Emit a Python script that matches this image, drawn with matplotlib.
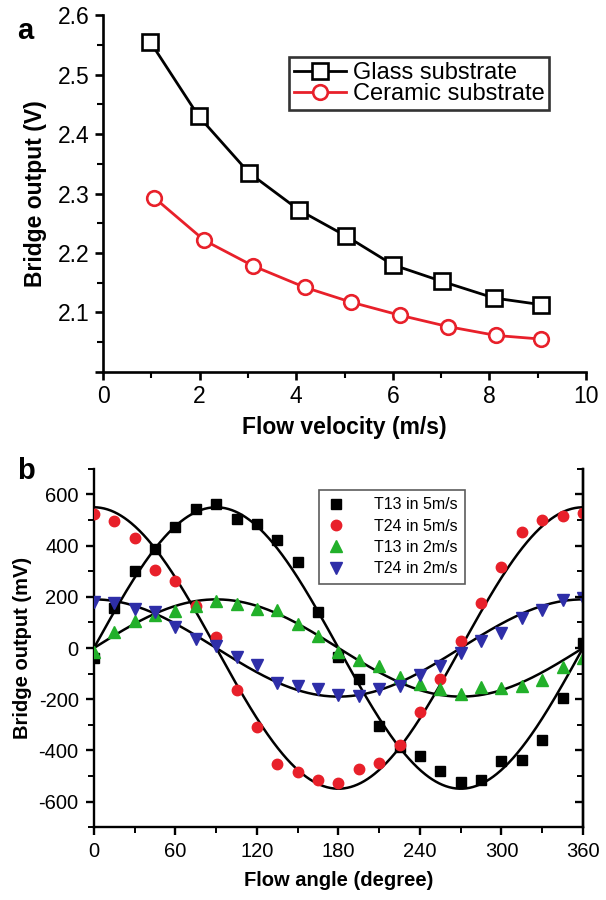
import numpy as np
import matplotlib
matplotlib.use("Agg")
import matplotlib.pyplot as plt
from matplotlib.ticker import FixedLocator, MultipleLocator, FuncFormatter

plt.rcParams['font.family'] = ['Liberation Sans', 'DejaVu Sans']
plt.rcParams['axes.unicode_minus'] = False

# ---------------- Panel a data ----------------
glass_x = [0.98, 1.98, 3.02, 4.06, 5.04, 6.0, 7.02, 8.1, 9.06]
glass_y = [2.555, 2.430, 2.335, 2.272, 2.228, 2.180, 2.152, 2.124, 2.113]
ceramic_x = [1.06, 2.1, 3.11, 4.18, 5.14, 6.15, 7.14, 8.14, 9.06]
ceramic_y = [2.293, 2.221, 2.178, 2.142, 2.117, 2.095, 2.076, 2.061, 2.055]

# ---------------- Panel b data ----------------
angles = [0, 15, 30, 45, 60, 75, 90, 105, 120, 135, 150, 165, 180,
          195, 210, 225, 240, 255, 270, 285, 300, 315, 330, 345, 360]
t13_5 = [-38, 158, 299, 385, 472, 542, 561, 503, 485, 424, 338, 139, -34,
         -120, -303, -385, -422, -481, -523, -516, -440, -437, -359, -197, 18]
t24_5 = [524, 495, 431, 304, 261, 165, 42, -165, -309, -453, -485, -516, -529,
         -472, -451, -380, -249, -121, 29, 176, 317, 452, 500, 516, 529]
t13_2 = [-16, 63, 107, 128, 144, 165, 185, 173, 152, 147, 94, 45, -16,
         -45, -71, -113, -140, -162, -178, -152, -155, -147, -126, -76, -39]
t24_2 = [178, 176, 152, 139, 83, 37, 8, -34, -68, -136, -149, -160, -183,
         -186, -162, -149, -105, -71, -21, 28, 60, 118, 149, 186, 194]
# sinusoidal fit parameters (amplitude mV, phase deg)
fit_amp = [550, 550, 190, 190]
fit_phase = [90, 0, 90, 0]

fig = plt.figure(figsize=(6.06, 9.0), dpi=100)

# ================= Panel a =================
ax = fig.add_axes([0.170, 0.587, 0.797, 0.396])
ax.plot(glass_x, glass_y, '-s', color='black', lw=2.0, ms=11, mfc='white',
        mec='black', mew=1.9, label='Glass substrate')
ax.plot(ceramic_x, ceramic_y, '-o', color='#e8202a', lw=2.0, ms=10.5, mfc='white',
        mec='#e8202a', mew=1.9, label='Ceramic substrate')
ax.set_xlim(0, 10)
ax.set_ylim(2.0, 2.6)
ax.spines['top'].set_visible(False)
ax.spines['right'].set_visible(False)
for s in ['left', 'bottom']:
    ax.spines[s].set_linewidth(1.9)
ax.xaxis.set_major_locator(MultipleLocator(2))
ax.xaxis.set_minor_locator(MultipleLocator(1))
ax.yaxis.set_major_locator(FixedLocator([2.0, 2.1, 2.2, 2.3, 2.4, 2.5, 2.6]))
ax.yaxis.set_minor_locator(FixedLocator([2.05, 2.15, 2.25, 2.35, 2.45, 2.55]))
ax.yaxis.set_major_formatter(FuncFormatter(lambda v, p: '' if abs(v - 2.0) < 1e-6 else f'{v:.1f}'))
ax.tick_params(which='major', direction='out', length=6, width=1.9, labelsize=16.5)
ax.tick_params(which='minor', direction='out', length=4, width=1.5)
ax.set_xlabel('Flow velocity (m/s)', fontsize=16.5, fontweight='bold', labelpad=6)
ax.set_ylabel('Bridge output (V)', fontsize=16.5, fontweight='bold', labelpad=8)
leg = ax.legend(loc='upper left', bbox_to_anchor=(0.385, 0.882), borderaxespad=0,
                fontsize=17, frameon=True, fancybox=False, handlelength=2.2,
                handletextpad=0.3, labelspacing=-0.05, borderpad=0.2)
leg.get_frame().set_edgecolor('black')
leg.get_frame().set_linewidth(1.9)
fig.text(0.028, 0.981, 'a', fontsize=21, fontweight='bold', va='top', ha='left')

# ================= Panel b =================
bx = fig.add_axes([0.155, 0.081, 0.807, 0.398])
theta = np.linspace(0, 360, 721)
for amp, ph in zip(fit_amp, fit_phase):
    bx.plot(theta, amp * np.cos(np.radians(theta - ph)), color='black', lw=1.8, zorder=2)
bx.plot(angles, t13_5, 's', color='black', ms=6.5, ls='none', label='T13 in 5m/s', zorder=3)
bx.plot(angles, t24_5, 'o', color='#e8202a', ms=7.5, ls='none', label='T24 in 5m/s', zorder=3)
bx.plot(angles, t13_2, '^', color='#22b02a', ms=8, ls='none', label='T13 in 2m/s', zorder=3)
bx.plot(angles, t24_2, 'v', color='#2e2ea8', ms=8, ls='none', label='T24 in 2m/s', zorder=3)
bx.set_xlim(0, 360)
bx.set_ylim(-700, 700)
bx.spines['top'].set_visible(False)
for s in ['left', 'bottom', 'right']:
    bx.spines[s].set_linewidth(1.7)
bx.xaxis.set_major_locator(MultipleLocator(60))
bx.xaxis.set_minor_locator(MultipleLocator(30))
bx.yaxis.set_major_locator(MultipleLocator(200))
bx.yaxis.set_minor_locator(MultipleLocator(100))
bx.tick_params(which='major', direction='out', length=6, width=1.7, labelsize=14.5, pad=5)
bx.tick_params(which='minor', direction='out', length=4, width=1.4)
bx.set_xlabel('Flow angle (degree)', fontsize=14.5, fontweight='bold', labelpad=7)
bx.set_ylabel('Bridge output (mV)', fontsize=14.5, fontweight='bold', labelpad=5)

rx = bx.twinx()
rx.set_ylim(-700, 700)
rx.yaxis.set_major_locator(MultipleLocator(200))
rx.yaxis.set_minor_locator(MultipleLocator(100))
rx.tick_params(which='major', direction='in', length=6, width=1.7, labelright=False)
rx.tick_params(which='minor', direction='in', length=4, width=1.4)
for s in ['top', 'left', 'bottom']:
    rx.spines[s].set_visible(False)
rx.spines['right'].set_linewidth(1.7)

lb = bx.legend(loc='upper left', bbox_to_anchor=(0.46, 0.941), borderaxespad=0,
               fontsize=11.5, frameon=True, fancybox=False, handlelength=1.2,
               handletextpad=1.8, labelspacing=0.4, borderpad=0.45, numpoints=1)
lb.get_frame().set_edgecolor('#333333')
lb.get_frame().set_linewidth(1.2)
fig.text(0.028, 0.492, 'b', fontsize=21, fontweight='bold', va='top', ha='left')

fig.savefig('out.png', dpi=100)
